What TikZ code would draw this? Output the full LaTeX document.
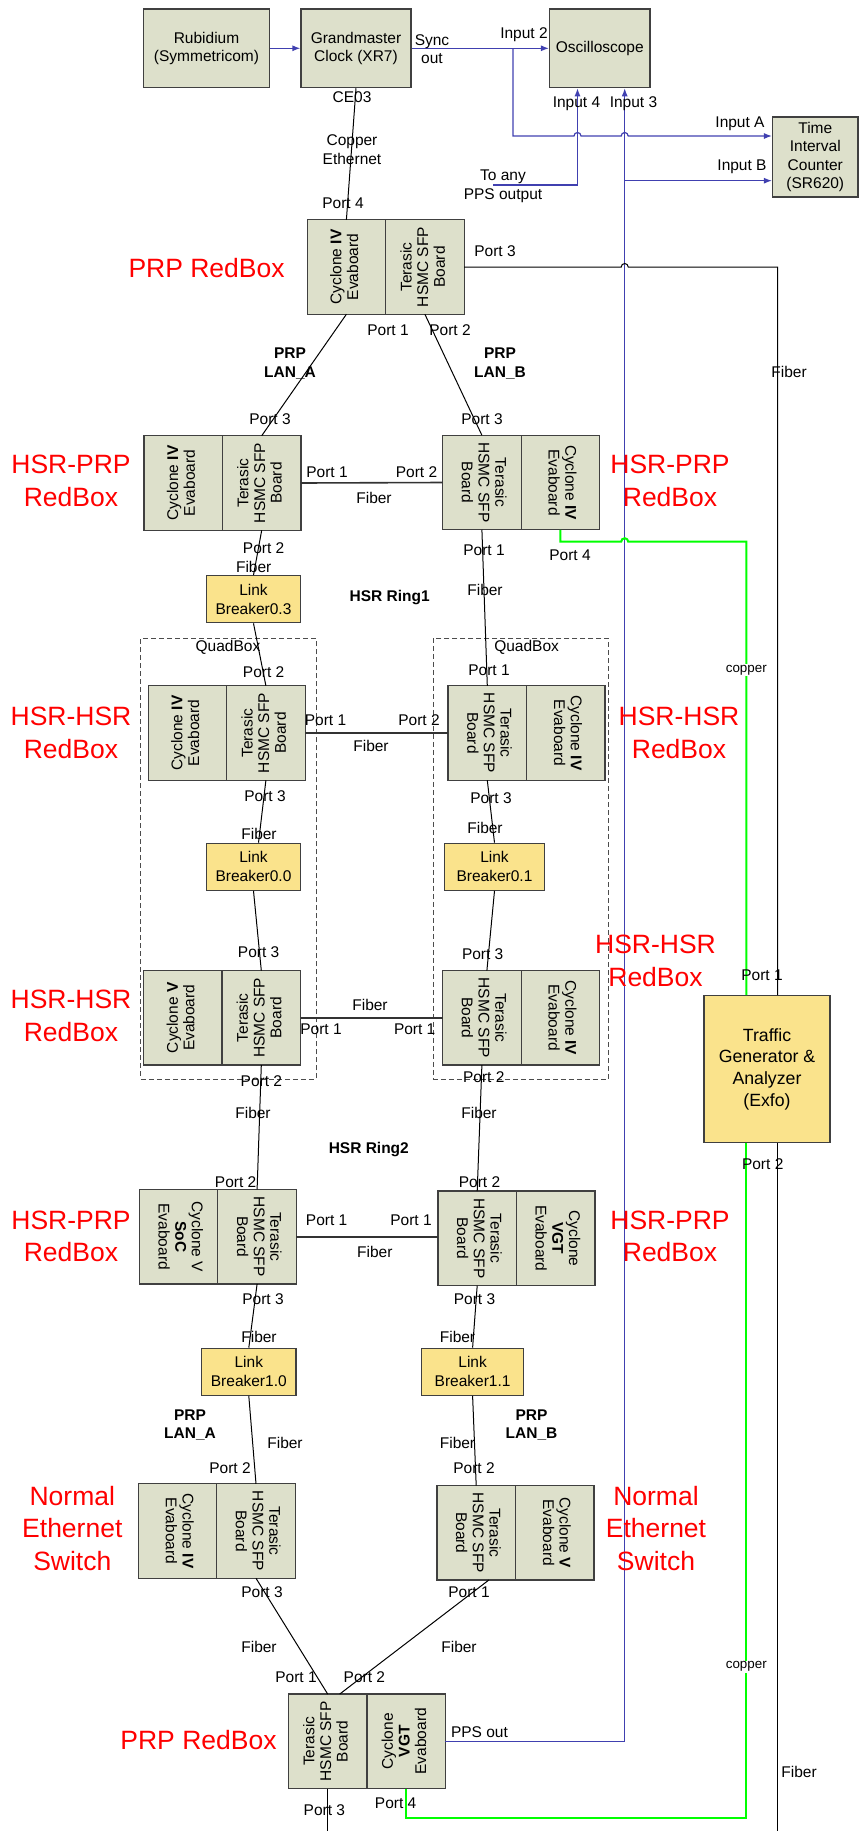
\documentclass[tikz,border=0pt]{standalone}
\usepackage{fontspec}
\setmainfont{Liberation Sans}
\usepackage{graphicx}
\usetikzlibrary{positioning,arrows.meta}
\definecolor{boardgray}{RGB}{221,224,203}
\definecolor{lbyellow}{RGB}{250,227,140}
\definecolor{ppsblue}{RGB}{64,64,176}
\definecolor{coppergreen}{RGB}{0,255,0}
\definecolor{redbox}{RGB}{255,0,0}
\newcommand{\rotup}[1]{\rotatebox{90}{\begin{tabular}{@{}c@{}}#1\end{tabular}}}
\newcommand{\rotdown}[1]{\rotatebox{-90}{\begin{tabular}{@{}c@{}}#1\end{tabular}}}
\begin{document}
\begin{tikzpicture}[x=1pt, y=-1pt, >={Latex[length=8pt,width=6pt]},
    box/.style={draw=black!75, line width=1.2, fill=boardgray, inner sep=0, align=center, font=\fontsize{15.5}{18.5}\selectfont},
    half/.style={draw=black!75, line width=1.2, fill=boardgray, minimum width=78.5, minimum height=94.5, inner sep=0, outer sep=0, font=\fontsize{15.5}{16.7}\selectfont},
    lb/.style={draw=black!75, line width=1.2, fill=lbyellow, minimum height=47, inner sep=0, align=center, font=\fontsize{15.5}{19}\selectfont},
    lbl/.style={inner sep=0, align=center, font=\fontsize{15.5}{18.5}\selectfont},
    lan/.style={lbl, font=\fontsize{15.5}{18.5}\selectfont\bfseries},
    tag/.style={inner sep=0, align=center, text=redbox, font=\fontsize{26.5}{32.3}\selectfont},
    cu/.style={inner sep=1, fill=white, font=\fontsize{13.4}{15}\selectfont},
    quad/.style={draw=black!70, dash pattern=on 5pt off 3pt, line width=0.8, inner sep=0},
    link/.style={line width=1},
    ring/.style={line width=1.6, black!80},
    pps/.style={line width=1.2, ppsblue},
    cop/.style={line width=2, coppergreen}]
  \useasboundingbox (0,0) rectangle (859,1831);

  \node (quadA) [quad, minimum width=175.2, minimum height=440.7] at (228.4,858.7) {};
  \node (quadB) [quad, minimum width=175.9, minimum height=440.7] at (520.9,858.7) {};

  \node (rub) [box, minimum width=126, minimum height=78.7] at (206.5,48.3) {Rubidium\\(Symmetricom)};
  \node (gm) [box, minimum width=110, minimum height=78.7] at (356,48.3) {Grandmaster\\Clock (XR7)};
  \node (osc) [box, minimum width=100.5, minimum height=78.7] at (599.8,48.3) {Oscilloscope};
  \node (tic) [box, minimum width=85.5, minimum height=80] at (815.3,157) {Time\\Interval\\Counter\\(SR620)};

  \node (prpT1) [half] at (346.4,267) {\rotup{Cyclone \textbf{IV}\\Evaboard}};
  \node (prpT2) [half, right=0pt of prpT1] {\rotup{Terasic\\HSMC SFP\\Board}};
  \node (hpA1) [half] at (183.2,483) {\rotup{Cyclone \textbf{IV}\\Evaboard}};
  \node (hpA2) [half, right=0pt of hpA1] {\rotup{Terasic\\HSMC SFP\\Board}};
  \node (hpB1) [half] at (481.9,482.5) {\rotdown{Terasic\\HSMC SFP\\Board}};
  \node (hpB2) [half, right=0pt of hpB1] {\rotdown{Cyclone \textbf{IV}\\Evaboard}};
  \node (hhA1) [half] at (187.4,733) {\rotup{Cyclone \textbf{IV}\\Evaboard}};
  \node (hhA2) [half, right=0pt of hhA1] {\rotup{Terasic\\HSMC SFP\\Board}};
  \node (hhB1) [half] at (487.3,733) {\rotdown{Terasic\\HSMC SFP\\Board}};
  \node (hhB2) [half, right=0pt of hhB1] {\rotdown{Cyclone \textbf{IV}\\Evaboard}};
  \node (hhC1) [half] at (182.8,1017.8) {\rotup{Cyclone \textbf{V}\\Evaboard}};
  \node (hhC2) [half, right=0pt of hhC1] {\rotup{Terasic\\HSMC SFP\\Board}};
  \node (hhD1) [half] at (481.9,1017.8) {\rotdown{Terasic\\HSMC SFP\\Board}};
  \node (hhD2) [half, right=0pt of hhD1] {\rotdown{Cyclone \textbf{IV}\\Evaboard}};
  \node (hpC1) [half] at (178.6,1236.7) {\rotdown{Cyclone V\\\textbf{SoC}\\Evaboard}};
  \node (hpC2) [half, right=0pt of hpC1] {\rotdown{Terasic\\HSMC SFP\\Board}};
  \node (hpD1) [half] at (477.2,1238.3) {\rotdown{Terasic\\HSMC SFP\\Board}};
  \node (hpD2) [half, right=0pt of hpD1] {\rotdown{Cyclone\\\textbf{VGT}\\Evaboard}};
  \node (nsA1) [half] at (177.5,1531) {\rotdown{Cyclone \textbf{IV}\\Evaboard}};
  \node (nsA2) [half, right=0pt of nsA1] {\rotdown{Terasic\\HSMC SFP\\Board}};
  \node (nsB1) [half] at (476.2,1532.8) {\rotdown{Terasic\\HSMC SFP\\Board}};
  \node (nsB2) [half, right=0pt of nsB1] {\rotdown{Cyclone \textbf{V}\\Evaboard}};
  \node (prpB1) [half] at (327.7,1741.3) {\rotup{Terasic\\HSMC SFP\\Board}};
  \node (prpB2) [half, right=0pt of prpB1] {\rotup{Cyclone\\\textbf{VGT}\\Evaboard}};

  \node (lb03) [lb, minimum width=93.7] at (253.5,599.2) {Link\\Breaker0.3};
  \node (lb00) [lb, minimum width=93.7] at (253.5,866.8) {Link\\Breaker0.0};
  \node (lb01) [lb, minimum width=100.3] at (494.5,866.8) {Link\\Breaker0.1};
  \node (lb10) [lb, minimum width=94.3] at (248.8,1371.8) {Link\\Breaker1.0};
  \node (lb11) [lb, minimum width=102.4] at (472.6,1371.8) {Link\\Breaker1.1};
  \node (tg) [lb, minimum width=126, minimum height=146.6, font=\fontsize{17.7}{21.7}\selectfont] at (767,1069) {Traffic\\Generator \&\\Analyzer\\(Exfo)};

  \coordinate (brA) at (513,48.3);
  \coordinate (brB) at (624.7,180.7);
  \coordinate (ppsAny) at (493,185);
  \coordinate (fibEnd) at (777.5,1831);

  \draw[pps,->] (rub) -- (gm);
  \draw[pps,->] (gm) -- (osc);
  \draw[pps,->] (brA) -- (513,136) -- (574,136) arc[start angle=180, end angle=360, radius=3.5] -- (621.2,136) arc[start angle=180, end angle=360, radius=3.5] -- ([yshift=21]tic.west);
  \draw[pps,->] (ppsAny) -| ([xshift=-22.3]osc.south);
  \draw[pps,->] (prpB2.east) -| ([xshift=24.9]osc.south);
  \draw[pps,->] (brB) -- ([yshift=-23.7]tic.west);

  \draw[link] (gm.south) -- (prpT1.north);
  \draw[link] (prpT2.east) -- (621.2,267) arc[start angle=180, end angle=360, radius=3.5] -- (777.5,267) -- ([xshift=10.5]tg.north);
  \draw[link] ([xshift=10.5]tg.south) -- (fibEnd);
  \draw[link] (prpT1.south) -- (hpA2.north);
  \draw[link] (prpT2.south) -- (hpB1.north);
  \draw[ring] (hpA2.east) -- (hpB1.west);
  \draw[link] (hpA2.south) -- (lb03.north);
  \draw[link] (lb03.south) -- (hhA2.north);
  \draw[link] (hpB1.south) -- (hhB1.north);
  \draw[ring] (hhA2.east) -- (hhB1.west);
  \draw[link] (hhA2.south) -- ([xshift=5]lb00.north);
  \draw[link] (hhB1.south) -- (lb01.north);
  \draw[link] (lb00.south) -- (hhC2.north);
  \draw[link] (lb01.south) -- ([xshift=5]hhD1.north);
  \draw[ring] (hhC2.east) -- (hhD1.west);
  \draw[link] (hhC2.south) -- (hpC2.north);
  \draw[link] (hhD1.south) -- (hpD1.north);
  \draw[ring] (hpC2.east) -- (hpD1.west |- hpC2.east);
  \draw[link] (hpC2.south) -- (lb10.north);
  \draw[link] (hpD1.south) -- (lb11.north);
  \draw[link] (lb10.south) -- (nsA2.north);
  \draw[link] (lb11.south) -- (nsB1.north);
  \draw[link] (nsA2.south) -- (prpB1.north);
  \draw[link] ([xshift=12.6]nsB1.south) -- ([xshift=12]prpB1.north);
  \draw[link] (prpB1.south) -- ++(0,43);

  \draw[cop] (hpB2.south) -- (560.4,541.7) -- (621.2,541.7) arc[start angle=180, end angle=360, radius=3.5] -- (746.3,541.7) -- ([xshift=-20.7]tg.north);
  \draw[cop] ([xshift=-20.7]tg.south) -- (746.3,1818.3) -| (prpB2.south);

  \node (tagPrpT) [tag] at (206.6,268) {PRP RedBox};
  \node (tagHpA) [tag] at (71,481) {HSR-PRP\\RedBox};
  \node (tagHpB) [tag] at (670,481) {HSR-PRP\\RedBox};
  \node (tagHhA) [tag] at (71,733) {HSR-HSR\\RedBox};
  \node (tagHhB) [tag] at (679,733) {HSR-HSR\\RedBox};
  \node (tagHhC) [tag] at (71,1015.8) {HSR-HSR\\RedBox};
  \node (tagHhD) [tag] at (655.5,961) {HSR-HSR\\RedBox};
  \node (tagHpC) [tag] at (71,1236.3) {HSR-PRP\\RedBox};
  \node (tagHpD) [tag] at (670,1236.3) {HSR-PRP\\RedBox};
  \node (tagNsA) [tag] at (72.3,1528.5) {Normal\\Ethernet\\Switch};
  \node (tagNsB) [tag] at (656,1528.5) {Normal\\Ethernet\\Switch};
  \node (tagPrpB) [tag] at (198.5,1740) {PRP RedBox};

  \node (lSync) [lbl] at (432,49) {Sync\\out};
  \node (lIn2) [lbl] at (524,35) {Input 2};
  \node (lInA) [lbl] at (740,124) {Input A};
  \node (lInB) [lbl] at (742,167) {Input B};
  \node (lIn4) [lbl] at (576.5,104) {Input 4};
  \node (lIn3) [lbl] at (633.5,104) {Input 3};
  \node (lAny) [lbl] at (503,186.5) {To any\\PPS output};
  \node (lCE) [lbl] at (352,97) {CE03};
  \node (lCu) [lbl] at (352,149.5) {Copper\\Ethernet};
  \node (lT4) [lbl] at (343,203) {Port 4};
  \node (lT3) [lbl] at (495,251) {Port 3};
  \node (lT1) [lbl] at (388,330) {Port 1};
  \node (lT2) [lbl] at (450,330) {Port 2};
  \node (lLanA) [lan] at (290,363.5) {PRP\\LAN\_A};
  \node (lLanB) [lan] at (500,363.5) {PRP\\LAN\_B};
  \node (lFib0) [lbl] at (789,371.7) {Fiber};
  \node (lA3) [lbl] at (270,419) {Port 3};
  \node (lB3) [lbl] at (482,419) {Port 3};
  \node (lA1) [lbl] at (327,472) {Port 1};
  \node (lB2) [lbl] at (416.5,472) {Port 2};
  \node (lAB) [lbl] at (374,497.7) {Fiber};
  \node (lA2) [lbl] at (263.6,548) {Port 2};
  \node (lAf) [lbl] at (253.7,566.7) {Fiber};
  \node (lB1) [lbl] at (484,550.7) {Port 1};
  \node (lB4) [lbl] at (570,555) {Port 4};
  \node (lBf) [lbl] at (485,590) {Fiber};
  \node (lRing1) [lan] at (389.6,597.7) {HSR Ring1};
  \node (lQa) [lbl] at (228,647.3) {QuadBox};
  \node (lQb) [lbl] at (526.6,647.3) {QuadBox};
  \node (lC2) [lbl] at (263.6,672.3) {Port 2};
  \node (lD1) [lbl] at (489,670) {Port 1};
  \node (lCu1) [cu] at (746.3,670) {copper};
  \node (lC1) [lbl] at (325.5,720) {Port 1};
  \node (lD2) [lbl] at (419,720) {Port 2};
  \node (lCD) [lbl] at (371,746) {Fiber};
  \node (lC3) [lbl] at (265,795.7) {Port 3};
  \node (lCf) [lbl] at (259,834.3) {Fiber};
  \node (lD3) [lbl] at (491,798.3) {Port 3};
  \node (lDf) [lbl] at (485,827.7) {Fiber};
  \node (lE3) [lbl] at (258.6,951.7) {Port 3};
  \node (lF3) [lbl] at (482.7,954.3) {Port 3};
  \node (lTg1) [lbl] at (762,975.7) {Port 1};
  \node (lEF) [lbl] at (370,1005) {Fiber};
  \node (lE1) [lbl] at (321,1029.3) {Port 1};
  \node (lF1) [lbl] at (414.7,1029.3) {Port 1};
  \node (lE2) [lbl] at (261.4,1080.7) {Port 2};
  \node (lF2) [lbl] at (483.8,1076.7) {Port 2};
  \node (lEf) [lbl] at (253,1112.7) {Fiber};
  \node (lFf) [lbl] at (479,1112.7) {Fiber};
  \node (lRing2) [lan] at (368.8,1150) {HSR Ring2};
  \node (lTg2) [lbl] at (762.7,1164.3) {Port 2};
  \node (lG2) [lbl] at (235.6,1182.3) {Port 2};
  \node (lH2) [lbl] at (479.5,1182.3) {Port 2};
  \node (lG1) [lbl] at (326.6,1220.7) {Port 1};
  \node (lH1) [lbl] at (411,1220.7) {Port 1};
  \node (lGH) [lbl] at (374.8,1252.3) {Fiber};
  \node (lG3) [lbl] at (263,1299.3) {Port 3};
  \node (lH3) [lbl] at (474.5,1299.3) {Port 3};
  \node (lGf) [lbl] at (259,1336.7) {Fiber};
  \node (lHf) [lbl] at (457.5,1336.7) {Fiber};
  \node (lLanA2) [lan] at (190,1425) {PRP\\LAN\_A};
  \node (lLanB2) [lan] at (531.5,1425) {PRP\\LAN\_B};
  \node (lKf) [lbl] at (285,1442.7) {Fiber};
  \node (lLf) [lbl] at (457.5,1442.7) {Fiber};
  \node (lK2) [lbl] at (230,1468.3) {Port 2};
  \node (lL2) [lbl] at (474,1468.3) {Port 2};
  \node (lK3) [lbl] at (262,1592.3) {Port 3};
  \node (lL1) [lbl] at (469,1592.3) {Port 1};
  \node (lKf2) [lbl] at (259,1646.7) {Fiber};
  \node (lLf2) [lbl] at (459,1646.7) {Fiber};
  \node (lM1) [lbl] at (296,1677.3) {Port 1};
  \node (lM2) [lbl] at (364.4,1677.3) {Port 2};
  \node (lCu2) [cu] at (746.3,1666.7) {copper};
  \node (lPps) [lbl] at (479.5,1731.7) {PPS out};
  \node (lFib1) [lbl] at (799,1772.3) {Fiber};
  \node (lM4) [lbl] at (395.6,1803.3) {Port 4};
  \node (lM3) [lbl] at (324.4,1810) {Port 3};
\end{tikzpicture}
\end{document}
